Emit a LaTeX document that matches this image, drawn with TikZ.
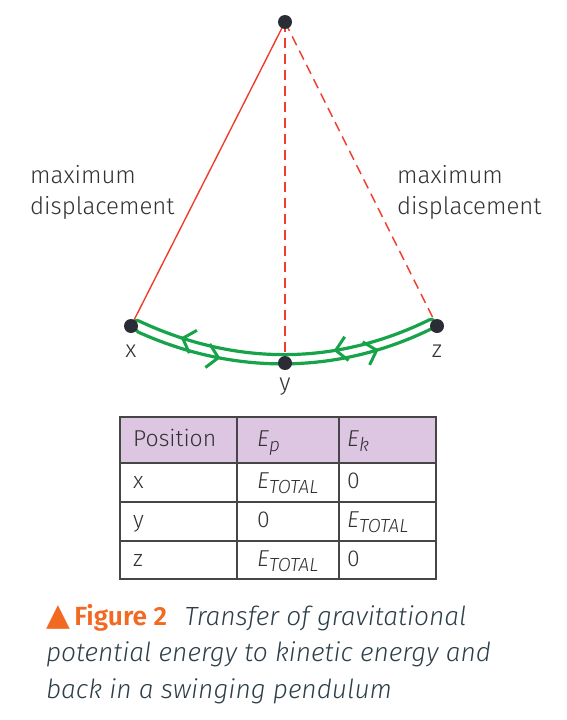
\documentclass[tikz,border=0pt]{standalone}
\usepackage{fontspec}
\setmainfont{Fira Sans Light}[BoldFont={Fira Sans SemiBold},ItalicFont={Fira Sans Light Italic}]
\newfontfamily\symfont{DejaVu Sans}
\usetikzlibrary{positioning,arrows.meta,decorations.markings}
\definecolor{rodred}{RGB}{240,60,46}
\definecolor{bobdark}{RGB}{42,45,53}
\definecolor{swinggreen}{RGB}{22,163,74}
\definecolor{gridgray}{RGB}{70,70,70}
\definecolor{headbg}{RGB}{220,198,226}
\definecolor{figorange}{RGB}{242,106,33}
\definecolor{captext}{RGB}{44,62,72}
\definecolor{labeltext}{RGB}{50,50,50}
\newcommand{\Esub}[1]{\textit{E}\raisebox{-5pt}{\fontsize{19}{19}\selectfont\itshape #1}}
\begin{document}
\begin{tikzpicture}[x=1pt,y=-1pt,every node/.style={font=\fontsize{24}{31}\selectfont,text=labeltext,inner sep=0pt},
    bob/.style={circle,fill=bobdark,minimum size=14pt},
    rod/.style={draw=rodred,line width=1.4pt},
    rodline/.style={rod,dash pattern=on 10pt off 6pt},
    swing/.style={draw=swinggreen,line width=3.2pt,line cap=round,line join=round,
      postaction={decorate},decoration={markings,
        mark=at position 45pt with {\arrowreversed{Straight Barb[length=11pt,width=24pt,line width=3pt]}},
        mark=at position 200pt with {\arrowreversed{Straight Barb[length=11pt,width=24pt,line width=3pt]}},
        mark=at position 372pt with {\arrowreversed{Straight Barb[length=11pt,width=24pt,line width=3pt]}},
        mark=at position 532pt with {\arrowreversed{Straight Barb[length=11pt,width=24pt,line width=3pt]}}}},
    cell/.style={anchor=base west,font=\fontsize{23}{24}\selectfont},
    grid/.style={draw=gridgray,line width=1.3pt}]
  \useasboundingbox (0,0) rectangle (567,720);
  % pendulum
  \coordinate (pivot) at (285,22);
  \coordinate (px) at (131,326);
  \coordinate (py) at (285,363);
  \coordinate (pz) at (437,326);
  \draw[rod] (pivot) -- (px);
  \draw[rodline] (pivot) -- (py);
  \draw[rodline] (pivot) -- (pz);
  \draw[swing] (139,321) .. controls (235,366) and (335,366) .. (429,320)
    .. controls (435,317) and (437,326) .. (431,329)
    .. controls (337,375) and (233,375) .. (138,332)
    .. controls (132,329) and (133,318) .. cycle;
  \node[bob] (top) at (pivot) {};
  \node[bob] (bx) at (px) {};
  \node[bob] (by) at (py) {};
  \node[bob] (bz) at (pz) {};
  \node[below=12pt of bx] (lx) {x};
  \node[below=8pt of by] (ly) {y};
  \node[below=12pt of bz] (lz) {z};
  \node[align=left,anchor=west] (maxl) at (30,192) {maximum\\displacement};
  \node[align=left,anchor=west] (maxr) at (397,192) {maximum\\displacement};
  % table
  \fill[headbg] (120,417) rectangle (436,463);
  \draw[grid] (120,417) rectangle (436,579);
  \foreach \ry in {463,502,541} \draw[grid] (120,\ry) -- (436,\ry);
  \foreach \cx in {237,339} \draw[grid] (\cx,417) -- (\cx,579);
  \node[cell] (hpos) at (133,446) {Position};
  \node[cell] (hep) at (257,446) {\Esub{p}};
  \node[cell] (hek) at (347,446) {\Esub{k}};
  \foreach \rname/\rp/\rk/\ry in {x/\Esub{TOTAL}/0/488, y/0/\Esub{TOTAL}/527, z/\Esub{TOTAL}/0/566} {
    \node[cell] at (133,\ry) {\rname};
    \node[cell] at (257,\ry) {\rp};
    \node[cell] at (347,\ry) {\rk};
  }
  % caption
  \node[anchor=north west,align=left,text=captext,font=\fontsize{26.3}{36.5}\selectfont] (cap) at (46,604)
    {\textcolor{figorange}{{\symfont\fontsize{31}{36}\selectfont ▲}\,\textbf{Figure 2}}\enspace\,\textit{Transfer of gravitational}\\
     \textit{potential energy to kinetic energy and}\\
     \textit{back in a swinging pendulum}};
\end{tikzpicture}
\end{document}
